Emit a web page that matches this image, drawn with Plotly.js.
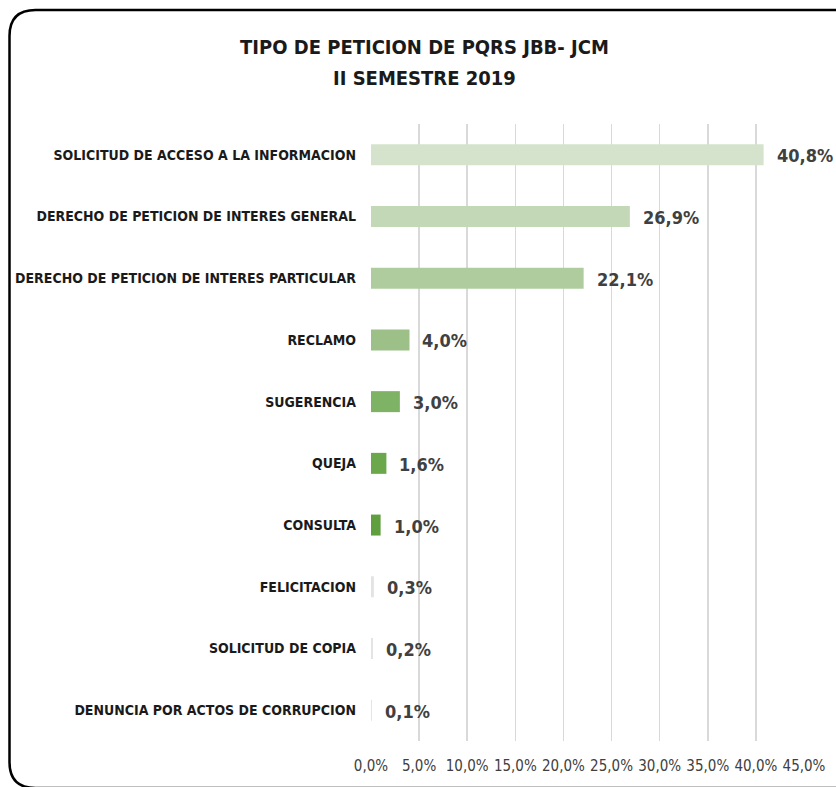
<!DOCTYPE html>
<html>
<head>
<meta charset="utf-8">
<script src="https://cdn.plot.ly/plotly-3.0.1.min.js"></script>
<style>
html,body{margin:0;padding:0;background:#fff;}
#chart{width:836px;height:787px;}
</style>
</head>
<body>
<div id="chart"></div>
<script>
const categories = [
  "SOLICITUD DE ACCESO A LA INFORMACION",
  "DERECHO DE PETICION DE INTERES GENERAL",
  "DERECHO DE PETICION DE INTERES PARTICULAR",
  "RECLAMO",
  "SUGERENCIA",
  "QUEJA",
  "CONSULTA",
  "FELICITACION",
  "SOLICITUD DE COPIA",
  "DENUNCIA POR ACTOS DE CORRUPCION"
];
const values = [40.8, 26.9, 22.1, 4.0, 3.0, 1.6, 1.0, 0.3, 0.2, 0.1];
const barColors = ["#d5e3cd", "#c2d8b6", "#afcc9f", "#9cc087", "#7eb265", "#6aa84b", "#5f9f40", "#e3e3e3", "#e3e3e3", "#e3e3e3"];
const xTickVals = [0, 5, 10, 15, 20, 25, 30, 35, 40, 45];
const xTickText = ["0,0%", "5,0%", "10,0%", "15,0%", "20,0%", "25,0%", "30,0%", "35,0%", "40,0%", "45,0%"];

const W = 836, H = 787;
const M = {l: 371, r: 32, t: 124, b: 46};
const PW = W - M.l - M.r, PH = H - M.t - M.b;
function px(x) { return (x - M.l) / PW; }
function py(y) { return (H - M.b - y) / PH; }

const labelFont = '"Liberation Sans Narrow", "DejaVu Sans Condensed", "Open Sans", sans-serif';

const trace = {
  type: 'bar',
  orientation: 'h',
  x: values,
  y: categories,
  marker: {color: barColors, line: {width: 0}},
  width: 0.34,
  hoverinfo: 'none'
};

const annotations = values.map((v, i) => ({
  x: v, y: categories[i], xref: 'x', yref: 'y',
  text: v.toFixed(1).replace('.', ',') + '%',
  showarrow: false, xanchor: 'left', yanchor: 'middle', xshift: 11, yshift: -1,
  font: {family: labelFont, size: 18, color: '#404040', weight: 'bold'}
}));

annotations.push({
  xref: 'paper', yref: 'paper',
  x: px(424), y: py(47), xanchor: 'center', yanchor: 'middle',
  text: '<b>TIPO DE PETICION DE PQRS JBB- JCM</b>',
  showarrow: false,
  font: {family: labelFont, size: 20, color: '#1a1a1a'}
});
annotations.push({
  xref: 'paper', yref: 'paper',
  x: px(424), y: py(78), xanchor: 'center', yanchor: 'middle',
  text: '<b>II SEMESTRE 2019</b>',
  showarrow: false,
  font: {family: labelFont, size: 20, color: '#1a1a1a'}
});

const r = 26;
const bx0 = 9.5, by0 = 10, bx1 = 845, by1 = 788;
const borderPath =
  'M ' + px(bx1) + ',' + py(by0) +
  ' L ' + px(bx0 + r) + ',' + py(by0) +
  ' Q ' + px(bx0) + ',' + py(by0) + ' ' + px(bx0) + ',' + py(by0 + r) +
  ' L ' + px(bx0) + ',' + py(by1 - r) +
  ' Q ' + px(bx0) + ',' + py(by1) + ' ' + px(bx0 + r) + ',' + py(by1) +
  ' L ' + px(bx1) + ',' + py(by1);

const layout = {
  width: W, height: H,
  margin: M,
  paper_bgcolor: '#ffffff',
  plot_bgcolor: '#ffffff',
  separators: ',.',
  showlegend: false,
  xaxis: {
    range: [0, 45],
    tickvals: xTickVals,
    ticktext: xTickText,
    showgrid: true,
    gridcolor: '#d9d9d9',
    gridwidth: 1.5,
    zeroline: false,
    showline: false,
    ticks: '',
    ticklabelstandoff: 14,
    tickfont: {family: labelFont, size: 15, color: '#404040'},
    fixedrange: true
  },
  yaxis: {
    type: 'category',
    autorange: 'reversed',
    showgrid: false,
    zeroline: false,
    showline: false,
    ticks: '',
    ticklabelstandoff: 14,
    tickfont: {family: labelFont, size: 14, color: '#1a1a1a', weight: 'bold'},
    fixedrange: true
  },
  annotations: annotations,
  shapes: [{
    type: 'path', xref: 'paper', yref: 'paper',
    path: borderPath,
    line: {color: '#000000', width: 2.5},
    layer: 'above'
  }]
};

Plotly.newPlot('chart', [trace], layout, {staticPlot: true, displayModeBar: false});
</script>
</body>
</html>
